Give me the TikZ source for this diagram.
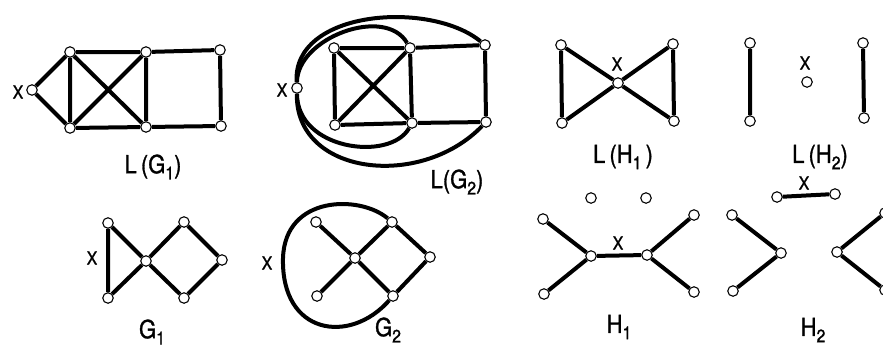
\documentclass[tikz,border=0pt]{standalone}
\usepackage{fontspec}
\setmainfont{TeX Gyre Heros}
\newfontfamily\condfont[FakeStretch=0.88,FakeBold=1.2]{TeX Gyre Heros}
\newcommand{\mysub}[1]{\raisebox{-0.25em}{\fontsize{18}{18}\selectfont #1}}
\begin{document}
\begin{tikzpicture}[x=1pt,y=-1pt,
  vtx/.style={circle,draw,fill=white,inner sep=0pt,minimum size=10.5pt,line width=1.1pt},
  edg/.style={line width=4pt},
  lab/.style={font=\condfont\fontsize{25}{25}\selectfont,inner sep=0pt},
  xlab/.style={font=\condfont\fontsize{18}{18}\selectfont,inner sep=0pt}]
\useasboundingbox (0,0) rectangle (883,349);
\clip (0,0) rectangle (883,349);
% ---------- L(G1)
\node[vtx] (a1x) at (32,90) {};
\node[vtx] (a1a) at (70,52) {};
\node[vtx] (a1b) at (146,52) {};
\node[vtx] (a1c) at (220,50) {};
\node[vtx] (a1d) at (70,128) {};
\node[vtx] (a1e) at (146,127) {};
\node[vtx] (a1f) at (221,126) {};
\draw[edg] (a1x)--(a1a) (a1x)--(a1d) (a1a)--(a1b) (a1a)--(a1d) (a1a)--(a1e)
  (a1b)--(a1d) (a1b)--(a1e) (a1b)--(a1c) (a1c)--(a1f) (a1d)--(a1e) (a1e)--(a1f);
\node[xlab] (a1X) at (18,92) {X};
\node[lab] (a1L) at (153,167) {L\,(G\mysub{1})};
% ---------- L(G2)
\node[vtx] (a2x) at (297,88) {};
\node[vtx] (a2a) at (334,48) {};
\node[vtx] (a2b) at (410,48) {};
\node[vtx] (a2c) at (485,45) {};
\node[vtx] (a2d) at (335,125) {};
\node[vtx] (a2e) at (412,123) {};
\node[vtx] (a2f) at (486,122) {};
\draw[edg] (a2a)--(a2b) (a2a)--(a2d) (a2b)--(a2e) (a2d)--(a2e) (a2a)--(a2e) (a2b)--(a2d)
  (a2b)--(a2c) (a2e)--(a2f) (a2c)--(a2f);
\draw[edg] (a2x) .. controls (292,10) and (430,0) .. (a2c);
\draw[edg] (a2x) .. controls (297,38) and (385,5) .. (a2b);
\draw[edg] (a2x) .. controls (297,150) and (390,162) .. (a2e);
\draw[edg] (a2x) .. controls (295,175) and (420,190) .. (a2f);
\node[xlab] (a2X) at (282,90) {X};
\node[lab] (a2L) at (457,182) {L(G\mysub{2})};
% ---------- G1
\node[vtx] (g1a) at (108,223) {};
\node[vtx] (g1b) at (108,298) {};
\node[vtx] (g1c) at (146,261) {};
\node[vtx] (g1d) at (184,222) {};
\node[vtx] (g1e) at (222,260) {};
\node[vtx] (g1f) at (184,298) {};
\draw[edg] (g1a)--(g1b) (g1a)--(g1c) (g1b)--(g1c) (g1c)--(g1d) (g1d)--(g1e) (g1c)--(g1f) (g1f)--(g1e);
\node[xlab] (g1X) at (92,258) {X};
\node[lab] (g1L) at (152,332) {G\mysub{1}};
% ---------- G2
\node[vtx] (g2a) at (316,222) {};
\node[vtx] (g2t) at (392,222) {};
\node[vtx] (g2c) at (355,258) {};
\node[vtx] (g2r) at (430,257) {};
\node[vtx] (g2l) at (317,296) {};
\node[vtx] (g2b) at (393,296) {};
\coordinate (g2w) at (283,258);
\draw[edg] (g2a)--(g2c) (g2c)--(g2b) (g2l)--(g2c) (g2c)--(g2t) (g2t)--(g2r) (g2r)--(g2b);
\draw[edg] (g2t) .. controls (360,195) and (285,195) .. (g2w)
  .. controls (281,335) and (350,345) .. (g2b);
\node[xlab] (g2X) at (267,263) {X};
\node[lab] (g2L) at (388,330) {G\mysub{2}};
% ---------- L(H1)
\node[vtx] (b1a) at (561,45) {};
\node[vtx] (b1b) at (673,44) {};
\node[vtx] (b1c) at (618,83) {};
\node[vtx] (b1d) at (562,123) {};
\node[vtx] (b1e) at (674,121) {};
\draw[edg] (b1a)--(b1d) (b1a)--(b1c) (b1c)--(b1b) (b1b)--(b1e) (b1d)--(b1c) (b1c)--(b1e);
\node[xlab] (b1X) at (617,64) {X};
\node[lab] (b1L) at (623,157) {L\,(H\mysub{1}\,)};
% ---------- L(H2)
\node[vtx] (b2a) at (750,43) {};
\node[vtx] (b2b) at (750,121) {};
\node[vtx] (b2x) at (807,82) {};
\node[vtx] (b2c) at (863,43) {};
\node[vtx] (b2d) at (864,118) {};
\draw[edg] (b2a)--(b2b) (b2c)--(b2d);
\node[xlab] (b2X) at (805,63) {X};
\node[lab] (b2L) at (820,157) {L\,(H\mysub{2})};
% ---------- H1
\node[vtx] (h1i) at (591,198) {};
\node[vtx] (h1j) at (646,198) {};
\node[vtx] (h1a) at (543,219) {};
\node[vtx] (h1b) at (591,256) {};
\node[vtx] (h1c) at (647,255) {};
\node[vtx] (h1d) at (694,215) {};
\node[vtx] (h1e) at (544,294) {};
\node[vtx] (h1f) at (694,292) {};
\draw[edg] (h1a)--(h1b) (h1e)--(h1b) (h1b)--(h1c) (h1c)--(h1d) (h1c)--(h1f);
\node[xlab] (h1X) at (618,243) {X};
\node[lab] (h1L) at (619,327) {H\mysub{1}};
% ---------- H2
\node[vtx] (h2p) at (777,197) {};
\node[vtx] (h2q) at (835,194) {};
\node[vtx] (h2a) at (732,215) {};
\node[vtx] (h2b) at (781,253) {};
\node[vtx] (h2c) at (733,291) {};
\node[vtx] (h2d) at (837,252) {};
\node[vtx] (h2e) at (885,213) {};
\node[vtx] (h2f) at (885,290) {};
\draw[edg] (h2p)--(h2q) (h2a)--(h2b) (h2b)--(h2c) (h2d)--(h2e) (h2d)--(h2f);
\node[xlab] (h2X) at (804,183) {X};
\node[lab] (h2L) at (813,330) {H\mysub{2}};
\end{tikzpicture}
\end{document}
